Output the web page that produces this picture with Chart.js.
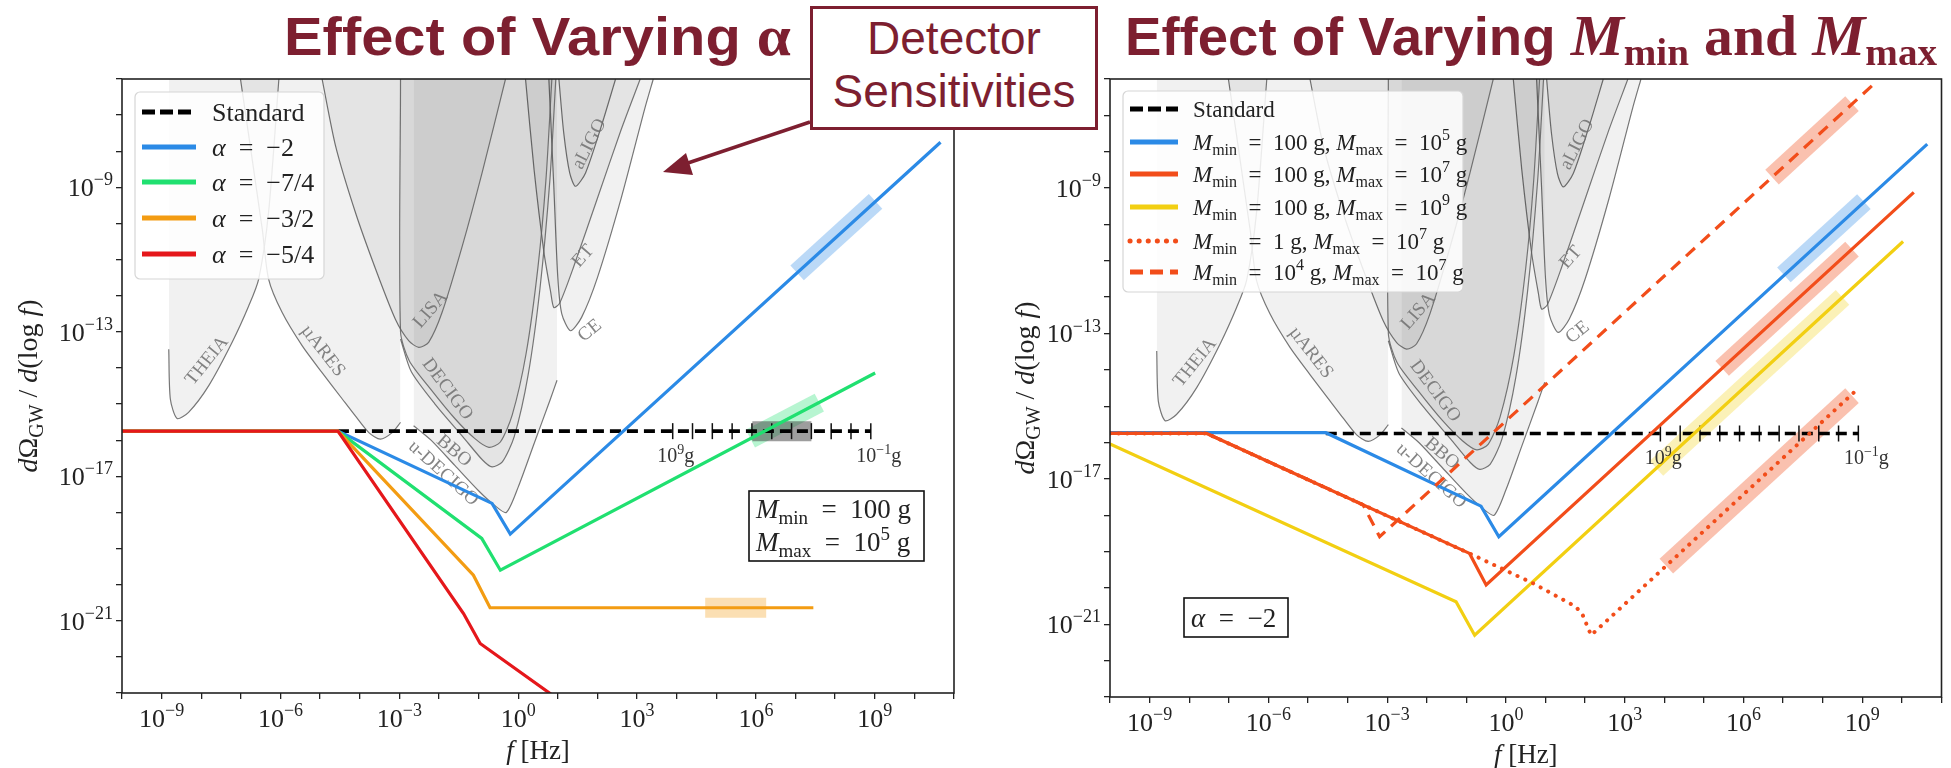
<!DOCTYPE html>
<html>
<head>
<meta charset="utf-8">
<script src="https://cdn.jsdelivr.net/npm/chart.js@4.4.1/dist/chart.umd.min.js"></script>
<style>
  html, body { margin: 0; padding: 0; background: #fff; }
  body { width: 1951px; height: 768px; position: relative; overflow: hidden; }
  .wrap { position: absolute; top: 0; height: 768px; }
  .title { position: absolute; top: 6px; color: #7d1f30; font-family: "Liberation Sans Narrow", "Arial Narrow", "Liberation Sans", sans-serif;
           font-weight: bold; font-size: 53px; line-height: 60px; white-space: nowrap; transform-origin: left top; }
  .gr { font-family: "Liberation Serif", serif; font-size: 56px; }
  .mi { font-family: "Liberation Serif", serif; font-style: italic; font-size: 58px; }
  .sb { font-family: "Liberation Serif", serif; font-size: 38px; position: relative; top: 10px; }
  .an { font-family: "Liberation Serif", serif; font-size: 56px; }
  #call { position: absolute; left: 810px; top: 6px; width: 288px; height: 124px; box-sizing: border-box; border: 3px solid #7d1f30;
          background: #fff; color: #7d1f30; font-family: "Liberation Sans", Arial, sans-serif; font-size: 46px; line-height: 53px;
          text-align: center; padding-top: 3px; }
  #arrow { position: absolute; left: 0; top: 0; }
</style>
</head>
<body>
<div class="wrap" style="left:0;width:975px"><canvas id="chartL"></canvas></div>
<div class="wrap" style="left:975px;width:976px"><canvas id="chartR"></canvas></div>
<div id="t1" class="title" style="left:284px">Effect of Varying <span class="gr">α</span></div>
<div id="t2" class="title" style="left:1125px">Effect of Varying <span class="mi">M</span><span class="sb">min</span> <span class="an">and</span> <span class="mi">M</span><span class="sb">max</span></div>
<div id="call">Detector<br>Sensitivities</div>
<svg id="arrow" width="1951" height="768">
  <line x1="810" y1="122" x2="682" y2="165" stroke="#7d1f30" stroke-width="3.5"/>
  <polygon points="663,172 686,153 693,175" fill="#7d1f30"/>
</svg>
<script>
const FAM = '"Liberation Serif", "Times New Roman", serif';
const EQ = '\u2002=\u2002';

// axis decades (log10) and which of them carry labels
const xDecades = [-10, -9, -8, -7, -6, -5, -4, -3, -2, -1, 0, 1, 2, 3, 4, 5, 6, 7, 8, 9, 10, 11];
const yDecades = [-23, -22, -21, -20, -19, -18, -17, -16, -15, -14, -13, -12, -11, -10, -9, -8, -7, -6];
const xLabelExps = [-9, -6, -3, 0, 3, 6, 9];
const yLabelExps = [-21, -17, -13, -9];

// detector sensitivity curves, [log10 f, log10 Omega]
const theia = [[-8.82,-13.48],[-8.78,-14.86],[-8.61,-15.40],[-8.32,-15.23],[-7.81,-14.49],[-7.22,-13.29],[-6.80,-12.28],[-6.55,-11.54],[-6.30,-9.69],[-6.04,-6]];
const mares = [[-7.01,-6],[-6.46,-10.16],[-6.30,-11.54],[-5.96,-12.46],[-5.45,-13.39],[-4.95,-14.13],[-4.44,-14.86],[-4.11,-15.33],[-3.77,-15.79],[-3.48,-15.97],[-3.18,-15.79],[-2.97,-15.51]];
const lisa = [[-4.95,-6],[-4.61,-7.85],[-4.11,-9.69],[-3.60,-11.26],[-3.10,-12.65],[-2.76,-13.25],[-2.51,-13.43],[-2.26,-13.29],[-1.92,-12.46],[-1.41,-10.62],[-0.91,-8.59],[-0.32,-6]];
const decigo = [[-2.97,-6],[-2.97,-13.0],[-2.75,-13.8],[-2.2,-14.6],[-1.6,-15.4],[-1.1,-15.95],[-0.74,-16.2],[-0.45,-16.05],[-0.15,-15.3],[0.2,-13.6],[0.5,-11.2],[0.7,-8.8],[0.85,-6]];
const bbo = [[-2.97,-13.2],[-2.7,-14.1],[-2.1,-15.0],[-1.4,-15.9],[-0.9,-16.55],[-0.66,-16.74],[-0.4,-16.6],[-0.1,-15.9],[0.25,-14.2],[0.55,-11.8],[0.8,-8.8],[0.95,-6]];
const udecigo = [[-2.64,-15.6],[-2.2,-16.0],[-1.6,-16.7],[-1.0,-17.4],[-0.6,-17.8],[-0.3,-18.0],[0.0,-17.3],[0.4,-16.1],[0.8,-14.9],[0.98,-14.34]];
const et = [[0.185,-6],[0.4,-8.5],[0.65,-10.8],[0.82,-11.9],[0.9,-12.33],[1.05,-12.2],[1.4,-11.2],[2.0,-9.3],[2.6,-7.4],[3.08,-6]];
const ce = [[0.774,-6],[0.9,-9],[1.0,-11.5],[1.1,-12.5],[1.32,-12.97],[1.6,-12.6],[2.0,-11.5],[2.6,-9.3],[3.2,-6.8],[3.41,-6]];
const aligo = [[1.027,-6],[1.15,-7.5],[1.3,-8.6],[1.448,-8.97],[1.7,-8.6],[2.1,-7.3],[2.458,-6]];
const detectors = [theia, mares, lisa, decigo, bbo, udecigo, et, ce, aligo];
const detectorNames = ['THEIA', 'µARES', 'LISA', 'DECIGO', 'BBO', 'u-DECIGO', 'ET', 'CE', 'aLIGO'];
const detectorNameAt = [[-7.85,-13.80],[-4.93,-13.53],[-2.21,-12.39],[-1.79,-14.59],[-1.62,-16.30],[-1.89,-16.92],[1.64,-10.91],[1.81,-12.97],[1.80,-7.80]];
const detectorNameTilt = [-51, 52, -49, 53, 40, 42, -49, -39, -63];

// standard spectrum and PBH mass markers (10^9 g ... 10^-1 g)
const stdLogF = [-4.55, 8.9];
const stdLogOmega = -15.75;
const massTickLogF = [3.9, 4.4, 4.9, 5.4, 5.9, 6.4, 6.9, 7.4, 7.9, 8.4, 8.9];
const massTickNames = ['10^9g', '10^-1g'];

// left panel: varying alpha
const alphaLabels = ['α = −2', 'α = −7/4', 'α = −3/2', 'α = −5/4'];
const aM2F = [-10, -4.55, -0.66, -0.20, 10.66];   const aM2O = [-15.75, -15.75, -17.75, -18.60, -7.75];
const aM74F = [-10, -4.55, -0.92, -0.45, 9.01];   const aM74O = [-15.75, -15.75, -18.72, -19.60, -14.14];
const aM32F = [-10, -4.55, -1.13, -0.71, 7.45];   const aM32O = [-15.75, -15.75, -19.74, -20.64, -20.64];
const aM54F = [-10, -4.55, -1.38, -0.96, 2.0];    const aM54O = [-15.75, -15.75, -20.80, -21.63, -23.95];
// highlighted stretches [f0, f1], [omega0, omega1]
const hlLeft = [
  [[5.91, 7.40], [-15.75, -15.75]],
  [[7.04, 9.02], [-11.37, -9.39]],
  [[5.86, 7.60], [-15.96, -14.96]],
  [[4.72, 6.26], [-20.64, -20.64]]
];

// right panel: varying Mmin and Mmax (alpha = -2)
const massLabels = ['100 g|10^5', '100 g|10^7', '100 g|10^9', '1 g|10^7', '10^4 g|10^7'];
const m5F = [-10, -4.55, -0.63, -0.18, 10.64];  const m5O = [-15.73, -15.73, -17.75, -18.59, -7.79];
const m7F = [-10, -7.56, -0.92, -0.50, 10.30];  const m7O = [-15.75, -15.75, -19.05, -19.92, -9.12];
const m9F = [-10, -1.26, -0.79, 10.03];         const m9O = [-16.04, -20.38, -21.30, -10.47];
const m1F = [-10, -7.56, -0.92, 0.68, 1.77, 1.94, 2.15, 8.81];
const m1O = [-15.75, -15.75, -19.05, -19.87, -20.52, -20.75, -21.30, -14.60];
const m4F = [-10, -7.56, -3.61, -3.19, 9.34];   const m4O = [-15.75, -15.75, -17.71, -18.59, -6.09];
const hlRight = [
  [[6.72, 8.74], [-8.70, -6.68]],
  [[7.02, 9.04], [-11.39, -9.37]],
  [[5.46, 8.74], [-13.96, -10.68]],
  [[3.80, 8.50], [-16.71, -12.01]],
  [[4.05, 8.74], [-19.40, -14.71]]
];

const pts = (f, o) => f.map((v, i) => ({ x: 10 ** v, y: 10 ** (Array.isArray(o) ? o[i] : o) }));
const pairs = d => d.map(([f, o]) => ({ x: 10 ** f, y: 10 ** o }));
const expStr = e => (e < 0 ? '−' + (-e) : String(e));

function rich(ctx, parts, x, y, size, align) {
  const font = s => (s === 'i' ? 'italic ' : '') + Math.round(s === 'sub' || s === 'sup' ? size * 0.7 : size) + 'px ' + FAM;
  const txt = t => t.split(' = ').join(EQ);
  let w = 0;
  parts.forEach(([t, s]) => { ctx.font = font(s); w += ctx.measureText(txt(t)).width; });
  let cx = align === 'center' ? x - w / 2 : align === 'right' ? x - w : x;
  ctx.textAlign = 'left';
  ctx.textBaseline = 'alphabetic';
  parts.forEach(([t, s]) => {
    ctx.font = font(s);
    const dy = s === 'sub' ? size * 0.22 : s === 'sup' ? -size * 0.42 : 0;
    ctx.fillText(txt(t), cx, y + dy);
    cx += ctx.measureText(txt(t)).width;
  });
  return w;
}

function massParts(label) {
  const [mn, mx] = label.split('|');
  const p = [['M', 'i'], ['min', 'sub']];
  if (mn.startsWith('10^')) p.push([' = 10', 'r'], [mn.slice(3, mn.indexOf(' ')), 'sup'], [' g, ', 'r']);
  else p.push([' = ' + mn + ', ', 'r']);
  p.push(['M', 'i'], ['max', 'sub'], [' = 10', 'r'], [mx.slice(3), 'sup'], [' g', 'r']);
  return p;
}

function powParts(s) {
  const [b, rest] = s.split('^');
  const e = rest.replace('g', '').replace('-', '−');
  return [[b, 'r'], [e, 'sup'], ['g', 'r']];
}

function drawDetectorNames(chart) {
  const ctx = chart.ctx, a = chart.chartArea, xs = chart.scales.x, ys = chart.scales.y;
  ctx.save();
  ctx.beginPath(); ctx.rect(a.left, a.top, a.right - a.left, a.bottom - a.top); ctx.clip();
  ctx.fillStyle = 'rgba(110,110,110,0.85)';
  ctx.font = '19px ' + FAM;
  ctx.textAlign = 'center'; ctx.textBaseline = 'middle';
  detectorNames.forEach((n, i) => {
    ctx.save();
    ctx.translate(xs.getPixelForValue(10 ** detectorNameAt[i][0]), ys.getPixelForValue(10 ** detectorNameAt[i][1]));
    ctx.rotate(detectorNameTilt[i] * Math.PI / 180);
    ctx.fillText(n, 0, 0);
    ctx.restore();
  });
  ctx.restore();
}

function drawMassNames(chart) {
  const ctx = chart.ctx, xs = chart.scales.x, ys = chart.scales.y;
  const y = ys.getPixelForValue(10 ** stdLogOmega) + 31;
  ctx.save();
  ctx.fillStyle = '#333';
  rich(ctx, powParts(massTickNames[0]), xs.getPixelForValue(10 ** massTickLogF[0]) + 3, y, 20, 'center');
  rich(ctx, powParts(massTickNames[1]), xs.getPixelForValue(10 ** massTickLogF[massTickLogF.length - 1]) + 8, y, 20, 'center');
  ctx.restore();
}

function drawLegend(chart, L) {
  const ctx = chart.ctx;
  ctx.save();
  ctx.beginPath();
  ctx.roundRect(L.x, L.y, L.w, L.h, 5);
  ctx.fillStyle = 'rgba(255,255,255,0.86)'; ctx.fill();
  ctx.strokeStyle = '#d6d6d6'; ctx.lineWidth = 1.2; ctx.stroke();
  L.entries.forEach((e, i) => {
    const y = L.rows[i];
    ctx.beginPath();
    ctx.setLineDash(e.dash || []);
    ctx.lineCap = e.cap || 'butt';
    ctx.strokeStyle = e.color; ctx.lineWidth = 5;
    ctx.moveTo(L.x0, y); ctx.lineTo(L.x1, y); ctx.stroke();
    ctx.setLineDash([]);
    ctx.fillStyle = '#222';
    rich(ctx, e.parts, L.tx, y + L.size * 0.33, L.size, 'left');
  });
  ctx.restore();
}

function drawBox(chart, B) {
  const ctx = chart.ctx;
  ctx.save();
  ctx.fillStyle = '#fff'; ctx.fillRect(B.x, B.y, B.w, B.h);
  ctx.strokeStyle = '#111'; ctx.lineWidth = 1.6; ctx.strokeRect(B.x, B.y, B.w, B.h);
  ctx.fillStyle = '#222';
  B.lines.forEach(l => rich(ctx, l.parts, l.x, l.y, B.size, 'left'));
  ctx.restore();
}

function drawAxes(chart, cfg) {
  const ctx = chart.ctx, a = chart.chartArea, xs = chart.scales.x, ys = chart.scales.y;
  ctx.save();
  ctx.strokeStyle = '#222'; ctx.lineWidth = 1.6;
  ctx.strokeRect(a.left, a.top, a.right - a.left, a.bottom - a.top);
  ctx.fillStyle = '#222';
  xLabelExps.forEach(e => rich(ctx, [['10', 'r'], [expStr(e), 'sup']], xs.getPixelForValue(10 ** e), a.bottom + 34, 26, 'center'));
  yLabelExps.forEach(e => rich(ctx, [['10', 'r'], [expStr(e), 'sup']], a.left - 9, ys.getPixelForValue(10 ** e) + 9, 26, 'right'));
  rich(ctx, [['f', 'i'], [' [Hz]', 'r']], (a.left + a.right) / 2, a.bottom + 66, 27, 'center');
  ctx.translate(cfg.yTitleX, (a.top + a.bottom) / 2);
  ctx.rotate(-Math.PI / 2);
  rich(ctx, [['d', 'i'], ['Ω', 'r'], ['GW', 'sub'], [' / ', 'r'], ['d', 'i'], ['(log ', 'r'], ['f', 'i'], [')', 'r']], 0, 0, 28, 'center');
  ctx.restore();
}

function decor(cfg) {
  return {
    id: 'decor',
    afterDatasetDraw(chart, args) {
      if (chart.data.datasets[args.index].order === 20) drawDetectorNames(chart);
    },
    afterDatasetsDraw(chart) {
      drawMassNames(chart);
      drawLegend(chart, cfg.legend);
      drawBox(chart, cfg.box);
    },
    afterDraw(chart) {
      drawAxes(chart, cfg);
    }
  };
}

function detectorSets() {
  return detectors.map((d, i) => ({
    data: pairs(d), fill: 'end', backgroundColor: 'rgba(0,0,0,0.055)', borderColor: 'rgba(95,95,95,0.85)',
    borderWidth: 1.2, pointRadius: 0, tension: 0.25, order: 20 + i
  }));
}

function line(label, f, o, color, order, extra) {
  return Object.assign({ label, data: pts(f, o), borderColor: color, borderWidth: 3.2, pointRadius: 0, fill: false,
    tension: 0, order, clip: 0 }, extra || {});
}

function highlights(list, colors) {
  return list.map(([f, o], i) => ({ data: pts(f, o), borderColor: colors[i], borderWidth: 20, borderCapStyle: 'butt',
    pointRadius: 0, fill: false, order: 10, clip: 0 }));
}

function standardSets() {
  return [
    line('Standard', stdLogF, stdLogOmega, '#000', 5, { borderDash: [11, 6], borderWidth: 3.6 }),
    { data: pts(massTickLogF, stdLogOmega), showLine: false, pointStyle: 'line', rotation: 90, pointRadius: 8,
      pointBorderWidth: 1.5, pointBorderColor: '#111', borderColor: '#111', order: 6 }
  ];
}

function scales() {
  return {
    x: { type: 'logarithmic', min: 1e-10, max: 1e11,
         afterBuildTicks: s => { s.ticks = xDecades.map(e => ({ value: 10 ** e })); },
         ticks: { display: false }, border: { display: false },
         grid: { drawOnChartArea: false, tickLength: 6, color: '#222', lineWidth: 1.3 } },
    y: { type: 'logarithmic', min: 1e-23, max: 1e-6,
         afterBuildTicks: s => { s.ticks = yDecades.map(e => ({ value: 10 ** e })); },
         ticks: { display: false }, border: { display: false },
         grid: { drawOnChartArea: false, tickLength: 6, color: '#222', lineWidth: 1.3 } }
  };
}

function makeChart(id, datasets, padding, cfg) {
  return new Chart(document.getElementById(id), {
    type: 'line',
    data: { datasets },
    options: {
      responsive: true, maintainAspectRatio: false, animation: false,
      layout: { padding },
      plugins: { legend: { display: false }, tooltip: { enabled: false } },
      scales: scales()
    },
    plugins: [decor(cfg)]
  });
}

const BLUE = '#2b8ae6', GREEN = '#20e070', ORANGE = '#f39c12', RED = '#e5171b', ORED = '#f24d1a', GOLD = '#f2cf12';

makeChart('chartL', [
  line(alphaLabels[3], aM54F, aM54O, RED, 0),
  line(alphaLabels[2], aM32F, aM32O, ORANGE, 1),
  line(alphaLabels[1], aM74F, aM74O, GREEN, 2),
  line(alphaLabels[0], aM2F, aM2O, BLUE, 3),
  ...standardSets(),
  ...highlights(hlLeft, ['rgba(60,60,60,0.5)', 'rgba(43,138,230,0.32)', 'rgba(32,224,112,0.32)', 'rgba(243,156,18,0.32)']),
  ...detectorSets()
], { left: 116, top: 79, right: 21, bottom: 69 }, {
  yTitleX: 37,
  legend: { x: 135, y: 92, w: 189, h: 187, rows: [112, 147, 182, 218, 254], x0: 142, x1: 196, tx: 212, size: 26,
    entries: [
      { parts: [['Standard', 'r']], color: '#000', dash: [13, 5] },
      { parts: [['α', 'i'], [alphaLabels[0].slice(1), 'r']], color: BLUE },
      { parts: [['α', 'i'], [alphaLabels[1].slice(1), 'r']], color: GREEN },
      { parts: [['α', 'i'], [alphaLabels[2].slice(1), 'r']], color: ORANGE },
      { parts: [['α', 'i'], [alphaLabels[3].slice(1), 'r']], color: RED }
    ] },
  box: { x: 749, y: 491, w: 175, h: 70, size: 27, lines: [
    { parts: [['M', 'i'], ['min', 'sub'], [' = 100 g', 'r']], x: 756, y: 518 },
    { parts: [['M', 'i'], ['max', 'sub'], [' = 10', 'r'], ['5', 'sup'], [' g', 'r']], x: 756, y: 551 }
  ] }
});

makeChart('chartR', [
  line(massLabels[4], m4F, m4O, ORED, 0, { borderDash: [12, 8] }),
  line(massLabels[3], m1F, m1O, ORED, 1, { borderDash: [0.1, 8.5], borderCapStyle: 'round', borderWidth: 4 }),
  line(massLabels[1], m7F, m7O, ORED, 2),
  line(massLabels[2], m9F, m9O, GOLD, 3),
  line(massLabels[0], m5F, m5O, BLUE, 4),
  ...standardSets(),
  ...highlights(hlRight, ['rgba(242,77,26,0.35)', 'rgba(43,138,230,0.32)', 'rgba(242,77,26,0.35)', 'rgba(242,207,18,0.3)', 'rgba(242,77,26,0.35)']),
  ...detectorSets()
], { left: 129, top: 79, right: 8, bottom: 65 }, {
  yTitleX: 59,
  legend: { x: 148, y: 91, w: 340, h: 201, rows: [109, 142, 174, 207, 241, 272], x0: 155, x1: 203, tx: 218, size: 23,
    entries: [
      { parts: [['Standard', 'r']], color: '#000', dash: [13, 5] },
      { parts: massParts(massLabels[0]), color: BLUE },
      { parts: massParts(massLabels[1]), color: ORED },
      { parts: massParts(massLabels[2]), color: GOLD },
      { parts: massParts(massLabels[3]), color: ORED, dash: [0.1, 9], cap: 'round' },
      { parts: massParts(massLabels[4]), color: ORED, dash: [13, 7] }
    ] },
  box: { x: 209, y: 598, w: 104, h: 39, size: 27, lines: [
    { parts: [['α', 'i'], [' = −2', 'r']], x: 216, y: 627 }
  ] }
});

function fitWidth(id, w) {
  const el = document.getElementById(id);
  el.style.transform = 'scaleX(' + (w / el.getBoundingClientRect().width) + ')';
}
fitWidth('t1', 507);
fitWidth('t2', 812);
</script>
</body>
</html>
